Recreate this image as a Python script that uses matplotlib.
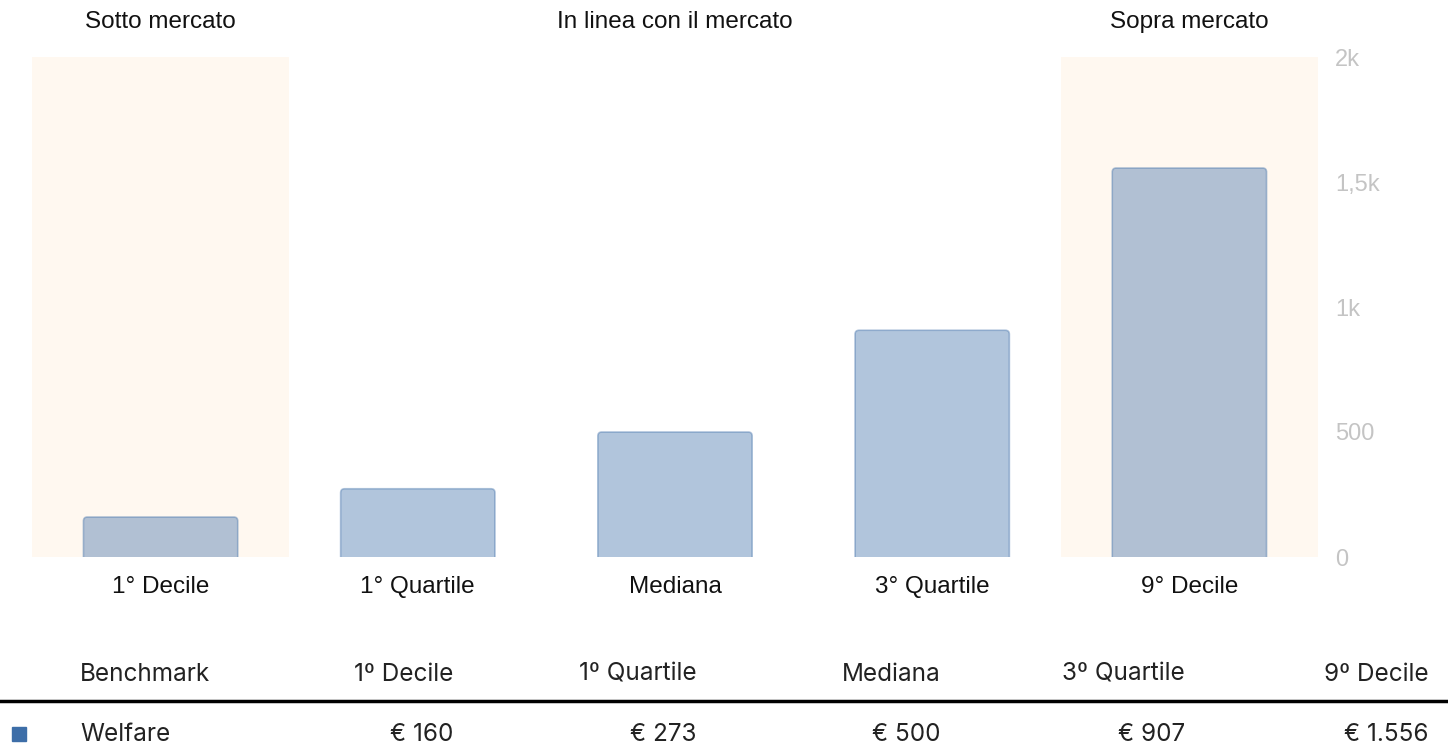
import matplotlib
matplotlib.use("Agg")
import matplotlib.pyplot as plt
from matplotlib.patches import FancyBboxPatch

categories = ["1° Decile", "1° Quartile", "Mediana", "3° Quartile", "9° Decile"]
values = [160, 273, 500, 907, 1556]
table_headers = ["Benchmark", "1º Decile", "1º Quartile", "Mediana", "3º Quartile", "9º Decile"]
series_name = "Welfare"
value_labels = ["€ 160", "€ 273", "€ 500", "€ 907", "€ 1.556"]
zone_labels = ["Sotto mercato", "In linea con il mercato", "Sopra mercato"]
zone_positions = [0, 2, 4]
shaded_idx = [0, 4]
yticks = [0, 500, 1000, 1500, 2000]
ytick_labels = ["0", "500", "1k", "1,5k", "2k"]

W, H = 1448, 749
fig = plt.figure(figsize=(W / 100, H / 100), dpi=100)
fig.patch.set_facecolor("white")

def fx(px):
    return px / W

def fy(py):
    return 1 - py / H

ax = fig.add_axes([fx(32), fy(557), fx(1318) - fx(32), fy(57) - fy(557)])
ax.set_xlim(-0.5, len(categories) - 0.5)
ax.set_ylim(0, 2000)

for i in shaded_idx:
    ax.axvspan(i - 0.5, i + 0.5, color="#fff8f0", zorder=0, lw=0)

bars = ax.bar(range(len(categories)), values, width=0.6, color="#3d6ea8", alpha=0.4,
              edgecolor="#3d6ea8", linewidth=1.2, zorder=2)

# rounded top corners: replace each bar rectangle by a rounded box of same geometry
x_units_per_px = (len(categories)) / 1286.0
y_units_per_px = 2000 / 500.0
r_px = 4
ext = 10 * y_units_per_px
for rect in bars.patches:
    rect.set_visible(False)
    fb = FancyBboxPatch((rect.get_x(), rect.get_y() - ext), rect.get_width(), rect.get_height() + ext,
                        boxstyle=f"round,pad=0,rounding_size={r_px * x_units_per_px}",
                        mutation_aspect=y_units_per_px / x_units_per_px,
                        facecolor="#3d6ea8", alpha=0.4, edgecolor="#3d6ea8", linewidth=1.2,
                        zorder=2, clip_on=True)
    ax.add_patch(fb)

for s in ax.spines.values():
    s.set_visible(False)

ax.yaxis.tick_right()
ax.set_yticks(yticks)
ax.set_yticklabels(ytick_labels, family="Liberation Sans", fontsize=17, color="#c4c4c4")
ax.tick_params(axis="y", length=0, pad=12.5)
ax.set_xticks(range(len(categories)))
ax.set_xticklabels(categories, family="Liberation Sans", fontsize=17.5, color="#111111")
ax.tick_params(axis="x", length=0, pad=14)

for pos, lab in zip(zone_positions, zone_labels):
    ax.text(pos, 1.0 + 24 / 500, lab, transform=ax.get_xaxis_transform(), ha="center", va="bottom",
            family="Liberation Sans", fontsize=17.5, color="#111111")

# Table
col_right = [None, 453, 697, 941, 1185, 1429]
header_base = 681
row_base = 741
tfont = dict(family="Inter", fontsize=17.5, color="#222222")
fig.text(fx(80), fy(header_base), table_headers[0], ha="left", va="baseline", **tfont)
for i in range(1, 6):
    fig.text(fx(col_right[i]), fy(header_base), table_headers[i], ha="right", va="baseline", **tfont)
fig.add_artist(plt.Line2D([0, 1], [fy(701), fy(701)], transform=fig.transFigure,
                          color="black", linewidth=2.5))
fig.text(fx(80), fy(row_base), series_name, ha="left", va="baseline", **tfont)
for i in range(1, 6):
    fig.text(fx(col_right[i]), fy(row_base), value_labels[i - 1], ha="right", va="baseline", **tfont)
fig.add_artist(plt.Rectangle((fx(12), fy(741)), fx(14), fy(727) - fy(741),
                             transform=fig.transFigure, color="#3d6ea8"))

fig.savefig("out.png", dpi=100)
